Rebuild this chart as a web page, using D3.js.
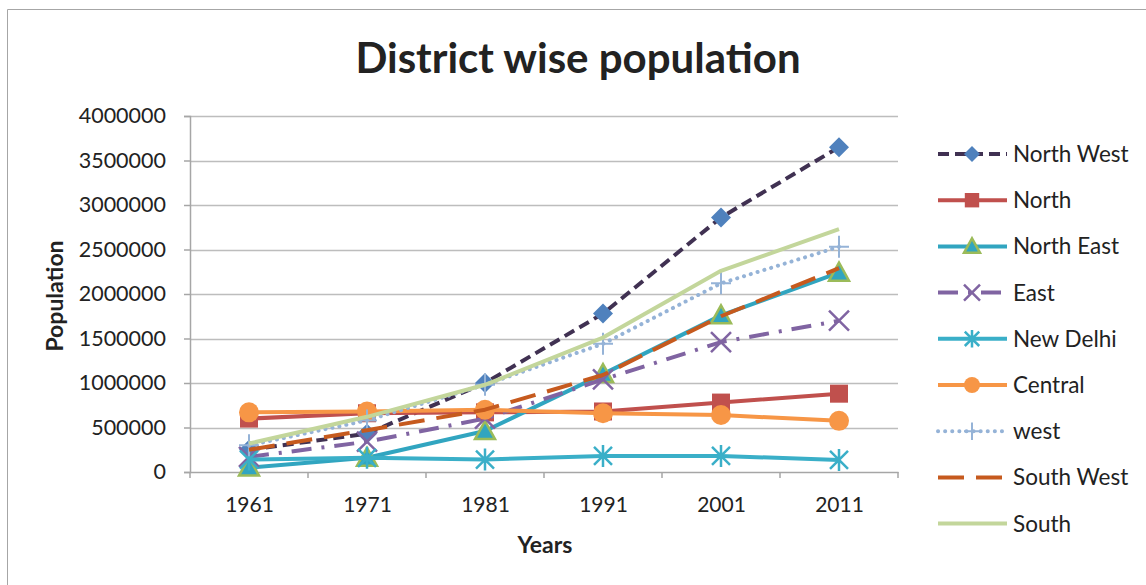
<!DOCTYPE html>
<html><head><meta charset="utf-8">
<script src="https://cdn.jsdelivr.net/npm/d3@7"></script>
<style>
html,body{margin:0;padding:0;background:#fff;}
svg text{font-family:Lato,"Open Sans",sans-serif;fill:#222;}
</style></head>
<body><svg id="c" width="1146" height="585"></svg>
<script>
const years = ["1961","1971","1981","1991","2001","2011"];
const yTicks = [0,500000,1000000,1500000,2000000,2500000,3000000,3500000,4000000];
const seriesNames = ["North West","North","North East","East","New Delhi","Central","west","South West","South"];
const northWest = [250000, 430000, 1000000, 1780000, 2860000, 3650000];
const north     = [600000, 660000, 670000, 680000, 780000, 880000];
const northEast = [50000, 160000, 460000, 1100000, 1760000, 2240000];
const east      = [170000, 340000, 600000, 1040000, 1460000, 1700000];
const newDelhi  = [140000, 160000, 140000, 180000, 180000, 135000];
const central   = [670000, 680000, 700000, 660000, 640000, 575000];
const west      = [300000, 580000, 980000, 1440000, 2120000, 2530000];
const southWest = [250000, 470000, 700000, 1090000, 1750000, 2290000];
const south     = [320000, 620000, 980000, 1510000, 2260000, 2730000];
const values = [northWest, north, northEast, east, newDelhi, central, west, southWest, south];

const styles = [
  {color:"#403152", dash:"11,6", marker:"diamond", mfill:"#4F81BD", mstroke:"#4F81BD"},
  {color:"#C0504D", dash:null, marker:"square", mfill:"#C0504D", mstroke:"#C0504D"},
  {color:"#31A5C0", dash:null, marker:"triangle", mfill:"#31A5C0", mstroke:"#9BBB59"},
  {color:"#8064A2", dash:"20,10,3,10", marker:"x", mfill:"none", mstroke:"#8064A2"},
  {color:"#3AAFC8", dash:null, marker:"asterisk", mfill:"none", mstroke:"#3AAFC8"},
  {color:"#F79646", dash:null, marker:"circle", mfill:"#F79646", mstroke:"#F79646"},
  {color:"#95B3D7", dash:"0.1,7", cap:"round", marker:"plus", mfill:"none", mstroke:"#95B3D7"},
  {color:"#C65A1E", dash:"26,12", marker:null},
  {color:"#C3D69B", dash:null, marker:null}
];

const svg = d3.select("#c");
// chart border
svg.append("path").attr("d","M7.5,585 L7.5,9.5 L1146,9.5").attr("fill","none").attr("stroke","#A6A6A6").attr("stroke-width",1);

const L=190, R=898, T=116, B=472;
const xb = d3.scaleBand().domain(years).range([L,R]);
const x = d3.scalePoint().domain(years).range([L,R]).padding(0.5);
const y = d3.scaleLinear().domain([0,4000000]).range([B,T]);

// gridlines
svg.append("g").selectAll("line").data(yTicks.slice(1)).join("line")
  .attr("x1",L).attr("x2",R).attr("y1",d=>Math.round(y(d))+0.5).attr("y2",d=>Math.round(y(d))+0.5)
  .attr("stroke","#BDBDBD").attr("stroke-width",1.5);

// y axis
const ya = svg.append("g").attr("transform",`translate(${L},0)`)
  .call(d3.axisLeft(y).tickValues(yTicks).tickSize(6).tickPadding(18).tickFormat(d3.format("d")));
ya.select(".domain").attr("stroke","#A6A6A6").attr("stroke-width",1.5);
ya.selectAll(".tick line").attr("stroke","#A6A6A6").attr("stroke-width",1.5);
ya.selectAll("text").style("font-size","21.5px").attr("fill","#333");

// x axis
const xa = svg.append("g").attr("transform",`translate(0,${B})`)
  .call(d3.axisBottom(x).tickSize(0).tickPadding(25));
xa.select(".domain").attr("stroke","#A6A6A6").attr("stroke-width",1.5);
xa.selectAll("text").style("font-size","21px").attr("fill","#333");
svg.append("g").selectAll("line").data(years.concat(["end"])).join("line")
  .attr("x1",(d,i)=>L+i*xb.bandwidth()).attr("x2",(d,i)=>L+i*xb.bandwidth())
  .attr("y1",B).attr("y2",B+6).attr("stroke","#A6A6A6").attr("stroke-width",1.5);

// title & axis titles
svg.append("text").attr("x",578).attr("y",73).attr("text-anchor","middle")
  .style("font-size","42px").style("font-weight","bold").attr("fill","#000").text("District wise population");
svg.append("text").attr("transform","translate(63,296) rotate(-90)").attr("text-anchor","middle")
  .style("font-size","23px").style("font-weight","bold").attr("fill","#000").text("Population");
svg.append("text").attr("x",545).attr("y",553).attr("text-anchor","middle")
  .style("font-size","23px").style("font-weight","bold").attr("fill","#000").text("Years");

function drawMarker(g, type, cx, cy, st, s){
  s = s||1;
  if(type==="diamond"){
    g.append("path").attr("d",`M${cx},${cy-10*s}L${cx+10*s},${cy}L${cx},${cy+10*s}L${cx-10*s},${cy}Z`).attr("fill",st.mfill);
  } else if(type==="square"){
    g.append("rect").attr("x",cx-9*s).attr("y",cy-9*s).attr("width",18*s).attr("height",18*s).attr("fill",st.mfill);
  } else if(type==="triangle"){
    g.append("path").attr("d",`M${cx},${cy-10*s}L${cx+10*s},${cy+8*s}L${cx-10*s},${cy+8*s}Z`).attr("fill",st.mfill).attr("stroke",st.mstroke).attr("stroke-width",2.5);
  } else if(type==="circle"){
    g.append("circle").attr("cx",cx).attr("cy",cy).attr("r",10*s).attr("fill",st.mfill);
  } else if(type==="x"){
    g.append("path").attr("d",`M${cx-10*s},${cy-10*s}L${cx+10*s},${cy+10*s}M${cx-10*s},${cy+10*s}L${cx+10*s},${cy-10*s}`).attr("stroke",st.mstroke).attr("stroke-width",2.5).attr("fill","none");
  } else if(type==="asterisk"){
    g.append("path").attr("d",`M${cx-9*s},${cy-9*s}L${cx+9*s},${cy+9*s}M${cx-9*s},${cy+9*s}L${cx+9*s},${cy-9*s}M${cx},${cy-11*s}L${cx},${cy+11*s}`).attr("stroke",st.mstroke).attr("stroke-width",2.5).attr("fill","none");
  } else if(type==="plus"){
    g.append("path").attr("d",`M${cx-10*s},${cy}L${cx+10*s},${cy}M${cx},${cy-11*s}L${cx},${cy+11*s}`).attr("stroke",st.mstroke).attr("stroke-width",2).attr("fill","none");
  }
}

const line = d3.line().x((d,i)=>x(years[i])).y(d=>y(d));
const plot = svg.append("g");
values.forEach((vals,si)=>{
  const st = styles[si];
  const g = plot.append("g");
  g.append("path").attr("d",line(vals)).attr("fill","none").attr("stroke",st.color)
    .attr("stroke-width",4).attr("stroke-dasharray",st.dash).attr("stroke-linecap",st.cap||"butt")
    .attr("stroke-linejoin","round");
  if(st.marker) vals.forEach((v,i)=>drawMarker(g, st.marker, x(years[i]), y(v), st));
});

// legend
const lg = svg.append("g");
seriesNames.forEach((name,i)=>{
  const st = styles[i];
  const ly = 154 + i*46.2;
  const g = lg.append("g");
  g.append("line").attr("x1",938).attr("x2",1007).attr("y1",ly).attr("y2",ly)
    .attr("stroke",st.color).attr("stroke-width",4).attr("stroke-dasharray",st.dash).attr("stroke-linecap",st.cap||"butt");
  if(st.marker) drawMarker(g, st.marker, 972, ly, st, 0.8);
  g.append("text").attr("x",1013).attr("y",ly+8).style("font-size","22.5px").attr("fill","#222").text(name);
});
</script></body></html>
